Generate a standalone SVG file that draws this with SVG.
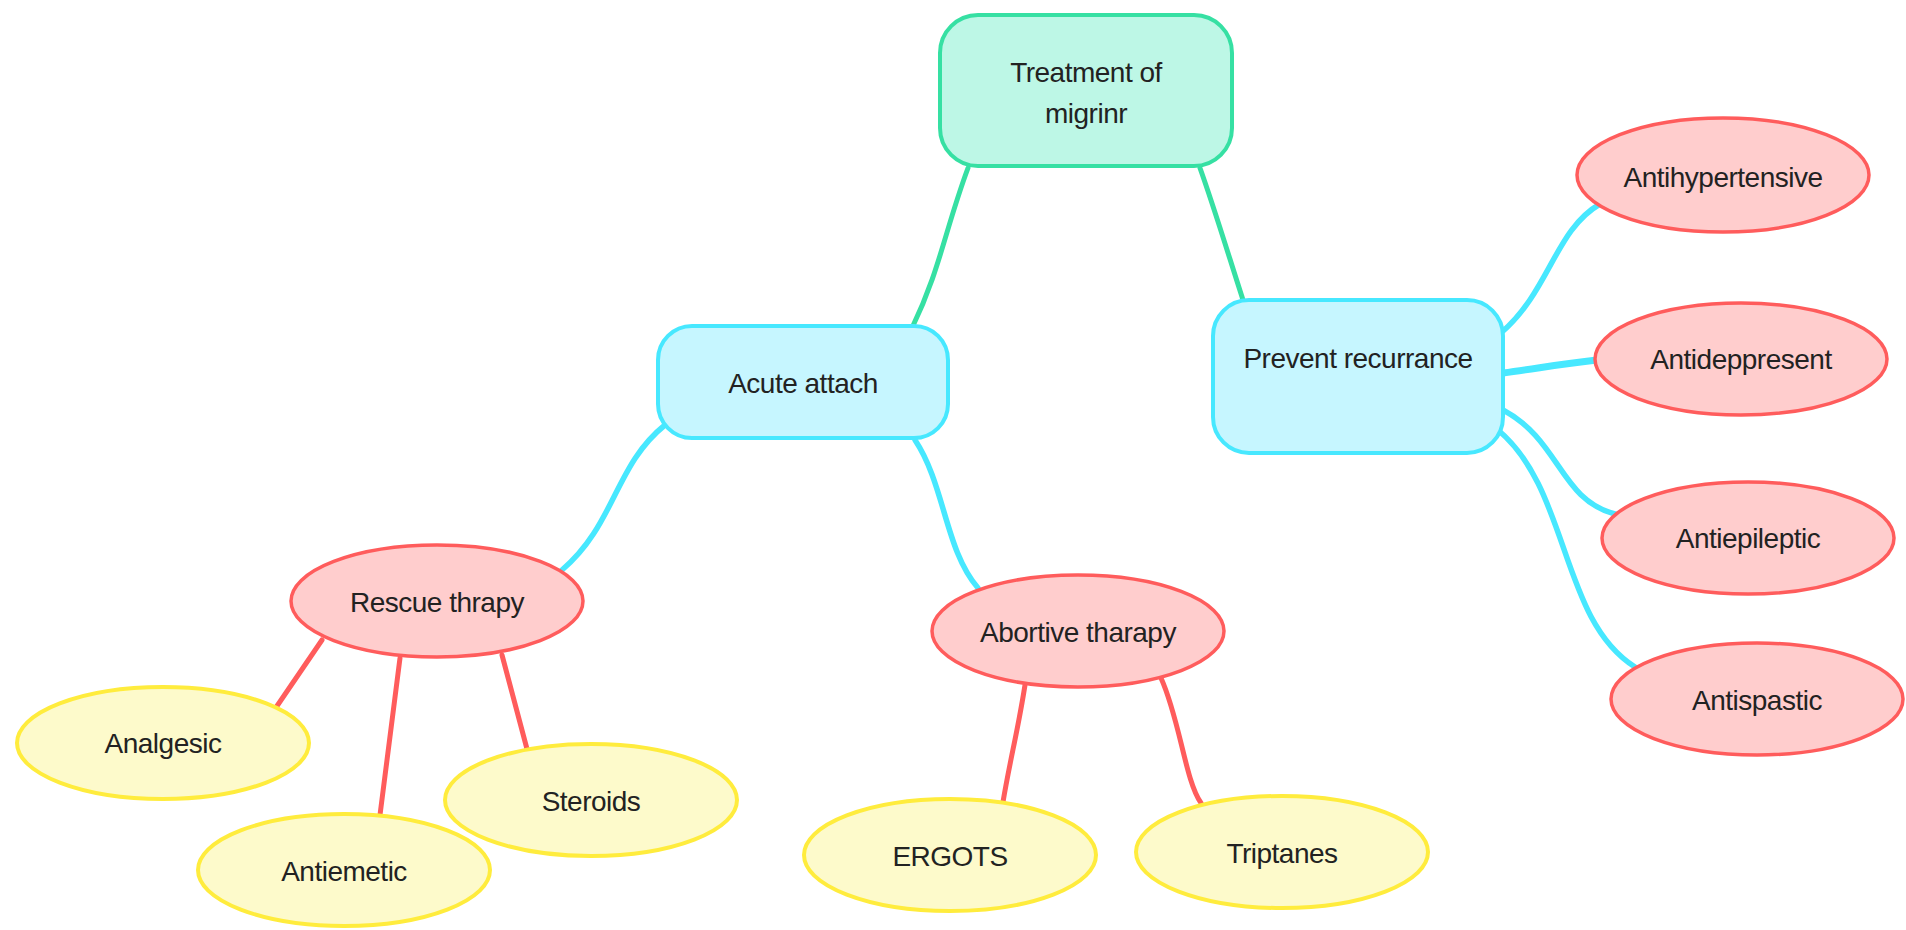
<svg xmlns="http://www.w3.org/2000/svg" width="1906" height="930" viewBox="0 0 1906 930">
<style>
  text { font-family: "Liberation Sans", Arial, sans-serif; font-size: 28px; fill: #222; text-anchor: middle; letter-spacing: -0.5px; }
  .root rect { fill: #bdf7e6; stroke: #36e0a3; stroke-width: 4; }
  .sub rect { fill: #c6f6ff; stroke: #47e8ff; stroke-width: 4; }
  .red ellipse { fill: #ffcdcd; stroke: #ff5c5c; stroke-width: 3.5; }
  .yel ellipse { fill: #fdfacb; stroke: #ffec3d; stroke-width: 4; }
  .c { fill: none; stroke-linecap: round; }
  .cg { stroke: #36e0a3; stroke-width: 5; }
  .cc { stroke: #47e8ff; stroke-width: 5.5; }
  .cr { stroke: #ff5c5c; stroke-width: 5; }
</style>
<rect width="1906" height="930" fill="#ffffff"/>
<g id="connectors">
  <path class="c cg" d="M 968 168 C 945 230, 940 270, 912 328"/>
  <path class="c cg" d="M 1200 168 C 1215 210, 1230 260, 1243 300"/>
  <path class="c cc" d="M 665 425 C 615 465, 615 525, 562 570"/>
  <path class="c cc" d="M 915 440 C 945 485, 945 550, 978 588"/>
  <path class="c cc" d="M 1502 332 C 1550 290, 1555 230, 1600 204"/>
  <path class="c cc" style="stroke-width:7" d="M 1503 373 C 1540 368, 1560 364, 1597 360"/>
  <path class="c cc" d="M 1503 410 C 1560 440, 1560 500, 1615 514"/>
  <path class="c cc" d="M 1498 430 C 1570 490, 1560 620, 1635 667"/>
  <path class="c cr" d="M 322 640 L 277 706"/>
  <path class="c cr" d="M 400 658 L 380 815"/>
  <path class="c cr" d="M 502 655 L 527 749"/>
  <path class="c cr" d="M 1025 685 C 1018 730, 1010 760, 1003 802"/>
  <path class="c cr" d="M 1161 678 C 1180 720, 1185 780, 1201 803"/>
</g>
<g id="n-root" class="root">
  <rect x="940" y="15" width="292" height="151" rx="38"/>
  <text x="1086" y="82">Treatment of</text>
  <text x="1086" y="123">migrinr</text>
</g>
<g id="n-acute" class="sub">
  <rect x="658" y="326" width="290" height="112" rx="34"/>
  <text x="803" y="393">Acute attach</text>
</g>
<g id="n-prevent" class="sub">
  <rect x="1213" y="300" width="290" height="153" rx="36"/>
  <text x="1358" y="368">Prevent recurrance</text>
</g>
<g id="n-antihyp" class="red">
  <ellipse cx="1723" cy="175" rx="146" ry="57"/>
  <text x="1723" y="187">Antihypertensive</text>
</g>
<g id="n-antidep" class="red">
  <ellipse cx="1741" cy="359" rx="146" ry="56"/>
  <text x="1741" y="369">Antideppresent</text>
</g>
<g id="n-antiepi" class="red">
  <ellipse cx="1748" cy="538" rx="146" ry="56"/>
  <text x="1748" y="548">Antiepileptic</text>
</g>
<g id="n-antispa" class="red">
  <ellipse cx="1757" cy="699" rx="146" ry="56"/>
  <text x="1757" y="710">Antispastic</text>
</g>
<g id="n-rescue" class="red">
  <ellipse cx="437" cy="601" rx="146" ry="56"/>
  <text x="437" y="612">Rescue thrapy</text>
</g>
<g id="n-abortive" class="red">
  <ellipse cx="1078" cy="631" rx="146" ry="56"/>
  <text x="1078" y="642">Abortive tharapy</text>
</g>
<g id="n-analgesic" class="yel">
  <ellipse cx="163" cy="743" rx="146" ry="56"/>
  <text x="163" y="753">Analgesic</text>
</g>
<g id="n-antiemetic" class="yel">
  <ellipse cx="344" cy="870" rx="146" ry="56"/>
  <text x="344" y="881">Antiemetic</text>
</g>
<g id="n-steroids" class="yel">
  <ellipse cx="591" cy="800" rx="146" ry="56"/>
  <text x="591" y="811">Steroids</text>
</g>
<g id="n-ergots" class="yel">
  <ellipse cx="950" cy="855" rx="146" ry="56"/>
  <text x="950" y="866">ERGOTS</text>
</g>
<g id="n-triptanes" class="yel">
  <ellipse cx="1282" cy="852" rx="146" ry="56"/>
  <text x="1282" y="863">Triptanes</text>
</g>
</svg>
